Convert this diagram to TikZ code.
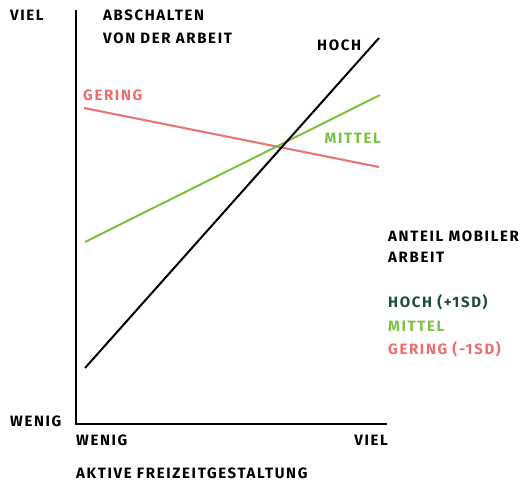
\documentclass[tikz,border=0pt]{standalone}
\usepackage{fontspec}
\setmainfont{Fira Sans}[LetterSpace=11]
\definecolor{cred}{HTML}{EC6F6E}
\definecolor{cgreen}{HTML}{7DC142}
\definecolor{cdark}{HTML}{1E4D3A}
\begin{document}
\begin{tikzpicture}[x=1pt,y=-1pt,
  lbl/.style={inner sep=0pt,font=\fontsize{15}{17}\selectfont\bfseries},
  ax/.style={line width=2pt},
  ln/.style={line width=2pt}]
\useasboundingbox (0,0) rectangle (521,481);
\coordinate (top) at (76,10);
\coordinate (org) at (76,424);
\coordinate (xend) at (387,424);
\draw[ax] (top) -- (org) -- (xend);
\coordinate (h1) at (85,368); \coordinate (h2) at (379,38);
\coordinate (m1) at (85,242); \coordinate (m2) at (380,95);
\coordinate (g1) at (84,108); \coordinate (g2) at (379,167);
\draw[ln,cred] (g1) -- (g2);
\draw[ln,cgreen] (m1) -- (m2);
\draw[ln,black] (h1) -- (h2);
\node[lbl,anchor=west] (vy) at (10,15) {VIEL};
\node[lbl,anchor=west] (t1) at (103,15) {ABSCHALTEN};
\node[lbl,anchor=west] (t2) at (103,38) {VON DER ARBEIT};
\node[lbl,anchor=west,cred] (lg) at (83,95) {GERING};
\node[lbl,anchor=west] (lh) at (317,45) {HOCH};
\node[lbl,anchor=east,cgreen] (lm) at (381,138) {MITTEL};
\node[lbl,anchor=west] (a1) at (388,236) {ANTEIL MOBILER};
\node[lbl,anchor=west] (a2) at (388,257) {ARBEIT};
\node[lbl,anchor=west,cdark] (k1) at (388,302) {HOCH (+1SD)};
\node[lbl,anchor=west,cgreen] (k2) at (388,326) {MITTEL};
\node[lbl,anchor=west,cred] (k3) at (388,349) {GERING (-1SD)};
\node[lbl,anchor=west] (wy) at (10,421) {WENIG};
\node[lbl,anchor=west] (wx) at (76,440) {WENIG};
\node[lbl,anchor=east] (vx) at (388,440) {VIEL};
\node[lbl,anchor=west] (xt) at (76,473) {AKTIVE FREIZEITGESTALTUNG};
\end{tikzpicture}
\end{document}
